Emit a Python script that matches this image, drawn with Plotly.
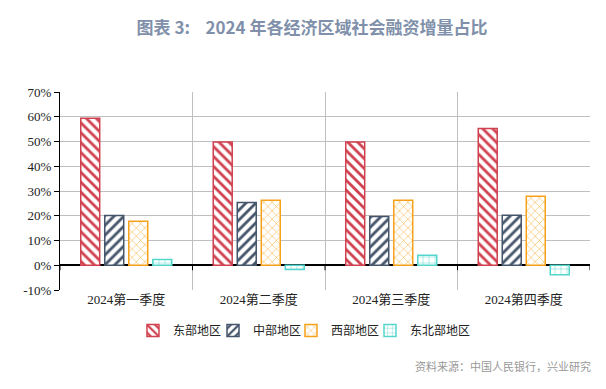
import plotly.graph_objects as go

categories = ["2024第一季度", "2024第二季度", "2024第三季度", "2024第四季度"]
series_names = ["东部地区", "中部地区", "西部地区", "东北部地区"]
east = [59.4, 49.8, 49.8, 55.3]
central = [20.1, 25.4, 19.7, 20.2]
west = [17.8, 26.3, 26.3, 27.9]
northeast = [2.3, -1.7, 4.0, -3.8]
y_ticks = [-10, 0, 10, 20, 30, 40, 50, 60, 70]
y_tick_labels = [f"{v}%" for v in y_ticks]

values = [east, central, west, northeast]
colors = ["#d0404f", "#44546a", "#f5a21b", "#55d6cc"]
shapes_p = ["\\", "/", "x", "+"]
sizes = [7, 7, 6, 6]
solid = [0.4, 0.4, 0.15, 0.15]
legend_ids = ["legend", "legend2", "legend3", "legend4"]
legend_x = [0.1377, 0.2887, 0.4358, 0.5849]

fig = go.Figure()
for name, vals, c, sh, sz, so, lg in zip(series_names, values, colors, shapes_p, sizes, solid, legend_ids):
    fig.add_trace(go.Bar(
        x=categories, y=vals, name=name, legend=lg,
        marker=dict(color="white", line=dict(color=c, width=1.5),
                    pattern=dict(shape=sh, fgcolor=c, bgcolor="white", size=sz, solidity=so,
                                 fillmode="overlay", fgopacity=1)),
    ))

serif = "Liberation Serif, Times New Roman, Noto Sans CJK SC, serif"

# small tick marks on the zero line at category boundaries
tick_shapes = []
for i in range(len(categories) + 1):
    tick_shapes.append(dict(type="line", xref="x", yref="y", x0=i - 0.5, x1=i - 0.5,
                            ysizemode="pixel", yanchor=0, y0=0, y1=-5,
                            line=dict(color="black", width=1)))

nb = "\u00a0"
legend_font = dict(family="Noto Sans CJK SC", size=12, color="#222")
legends = {}
for lg, lx in zip(legend_ids, legend_x):
    legends[lg] = dict(orientation="h", x=lx, xanchor="left", y=-0.205, yanchor="middle",
                       font=legend_font, itemwidth=30, tracegroupgap=0, bgcolor="rgba(0,0,0,0)")

fig.update_layout(
    width=606, height=389,
    margin=dict(l=60, r=16, t=92, b=99),
    paper_bgcolor="white", plot_bgcolor="white",
    barmode="group", bargap=0.275, bargroupgap=0.21,
    title=dict(text=f"<b>图表 3:{nb*4}2024 年各经济区域社会融资增量占比</b>",
               x=312 / 606, xanchor="center", y=1 - 28 / 389, yanchor="middle",
               font=dict(family="Noto Sans CJK SC", size=17, color="#8090aa")),
    showlegend=True,
    xaxis=dict(type="category", tickson="boundaries", showgrid=True, gridcolor="#bfbfbf", gridwidth=1,
               ticks="", showline=False, tickfont=dict(family=serif, size=13, color="#222"),
               range=[-0.5, len(categories) - 0.5], automargin=False),
    yaxis=dict(range=[-10, 70], tickvals=y_ticks, ticktext=y_tick_labels, showgrid=True, gridcolor="#bfbfbf",
               gridwidth=1, zeroline=True, zerolinecolor="black", zerolinewidth=1.5,
               showline=True, linecolor="black", linewidth=1, ticks="outside", ticklen=5,
               tickcolor="black", tickfont=dict(family=serif, size=13, color="#222"), automargin=False),
    shapes=tick_shapes,
    annotations=[dict(text="资料来源：中国人民银行，兴业研究", xref="paper", yref="paper",
                      x=1.006, xanchor="right", y=-0.384, yanchor="middle", showarrow=False,
                      font=dict(family="Noto Sans CJK SC", size=11, color="#999999"))],
    **legends,
)

fig.write_html("out.html", config={"displayModeBar": False},
               post_script="document.body.style.margin='0';")
